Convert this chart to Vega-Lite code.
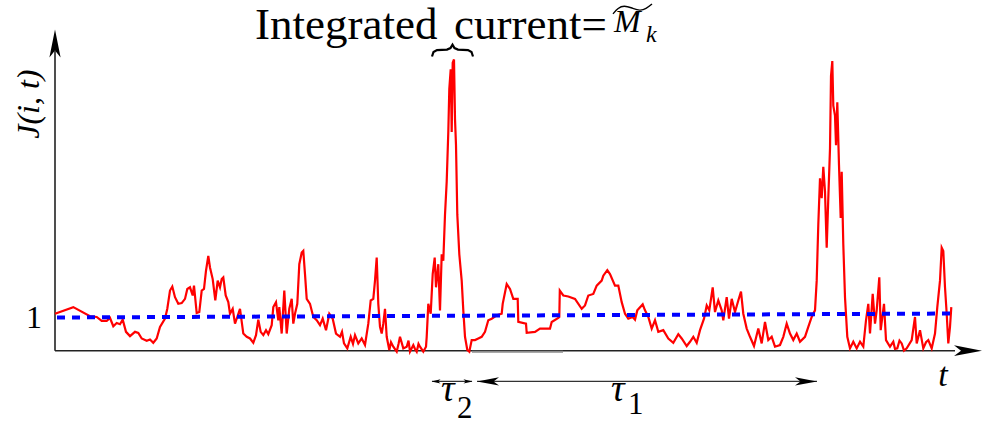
{
  "$schema": "https://vega.github.io/schema/vega-lite/v6.json",
  "width": 984,
  "height": 425,
  "autosize": {"type": "fit", "contains": "padding"},
  "padding": 0,
  "background": "white",
  "view": {"stroke": null},
  "config": {"text": {"font": "Liberation Serif", "color": "black"}},
  "datasets": {
    "current": [
      {"t":0,"J":1.097},{"t":18.3,"J":1.294},{"t":35,"J":1.021},{"t":41.7,"J":1.0},{"t":46.7,"J":0.882},{"t":51.7,"J":0.882},{"t":55,"J":0.971},{"t":58.3,"J":0.726},{"t":61.7,"J":0.824},{"t":65,"J":0.785},{"t":67.7,"J":0.921},{"t":71,"J":0.559},{"t":75,"J":0.432},{"t":80,"J":0.559},{"t":83.3,"J":0.529},{"t":86.7,"J":0.362},{"t":91.7,"J":0.294},{"t":95,"J":0.332},{"t":98.3,"J":0.235},{"t":101.7,"J":0.362},{"t":105,"J":0.706},{"t":110,"J":0.95},{"t":112.3,"J":1.244},{"t":115,"J":1.785},{"t":117.3,"J":1.903},{"t":120,"J":1.588},{"t":123.3,"J":1.391},{"t":126.7,"J":1.412},{"t":130,"J":1.538},{"t":132.3,"J":1.832},{"t":135,"J":1.882},{"t":137.7,"J":1.638},{"t":139,"J":1.932},{"t":141.7,"J":1.118},{"t":144.3,"J":1.147},{"t":146.7,"J":1.785},{"t":149,"J":1.832},{"t":151,"J":2.374},{"t":153.3,"J":2.815},{"t":155,"J":2.471},{"t":157.7,"J":2.126},{"t":160.3,"J":1.491},{"t":162.7,"J":2.079},{"t":165,"J":1.882},{"t":166.7,"J":2.126},{"t":168.3,"J":2.176},{"t":170.7,"J":1.638},{"t":173.3,"J":1.441},{"t":175,"J":1.097},{"t":177.7,"J":1.244},{"t":180,"J":0.803},{"t":182.3,"J":1.0},{"t":185,"J":1.244},{"t":188.3,"J":0.509},{"t":191.7,"J":0.412},{"t":195,"J":0.362},{"t":198.3,"J":0.235},{"t":201,"J":0.462},{"t":203.3,"J":0.921},{"t":205.7,"J":0.559},{"t":208.3,"J":0.462},{"t":211,"J":0.609},{"t":213.3,"J":0.491},{"t":216.7,"J":0.756},{"t":218.3,"J":1.294},{"t":221,"J":1.441},{"t":223.3,"J":0.903},{"t":224.3,"J":1.294},{"t":226.7,"J":0.509},{"t":229.3,"J":1.785},{"t":231.7,"J":0.509},{"t":234.3,"J":1.244},{"t":236.7,"J":1.538},{"t":238.3,"J":0.803},{"t":240,"J":1.097},{"t":242.3,"J":1.391},{"t":244.3,"J":2.568},{"t":246.7,"J":2.912},{"t":248.3,"J":2.962},{"t":250,"J":2.274},{"t":251.7,"J":1.538},{"t":255,"J":1.391},{"t":258.3,"J":1.0},{"t":261.7,"J":0.903},{"t":265,"J":0.756},{"t":267.7,"J":0.95},{"t":271,"J":0.609},{"t":274.3,"J":1.097},{"t":277.7,"J":0.95},{"t":281,"J":0.509},{"t":285,"J":0.412},{"t":287,"J":0.56},{"t":289,"J":0.215},{"t":292.3,"J":0.068},{"t":295.7,"J":0.412},{"t":298,"J":0.2},{"t":300,"J":0.462},{"t":303.3,"J":0.215},{"t":306.7,"J":0.362},{"t":310,"J":0.168},{"t":313.3,"J":0.803},{"t":315.7,"J":1.491},{"t":318.3,"J":1.538},{"t":320,"J":2.079},{"t":321.7,"J":2.765},{"t":323.3,"J":1.391},{"t":325,"J":0.706},{"t":326.7,"J":0.509},{"t":328.3,"J":0.803},{"t":330,"J":1.244},{"t":331.7,"J":0.412},{"t":334.3,"J":0.021},{"t":336,"J":0.25},{"t":338.3,"J":0.118},{"t":341.7,"J":-0.029},{"t":343.5,"J":0.2},{"t":345,"J":0.412},{"t":348.3,"J":0.068},{"t":351.7,"J":0.118},{"t":353.5,"J":0.3},{"t":355,"J":-0.029},{"t":358.3,"J":0.168},{"t":360,"J":0.05},{"t":361.7,"J":-0.029},{"t":363.5,"J":0.2},{"t":365,"J":0.118},{"t":368.3,"J":-0.029},{"t":371,"J":0.118},{"t":371.7,"J":0.412},{"t":373.3,"J":1.391},{"t":375.7,"J":1.097},{"t":377.7,"J":2.274},{"t":379.7,"J":2.765},{"t":381,"J":1.882},{"t":383.3,"J":2.568},{"t":385,"J":1.197},{"t":386.7,"J":2.862},{"t":388.3,"J":2.668},{"t":390,"J":4.038},{"t":391.7,"J":5.021},{"t":393.3,"J":6.491},{"t":394.3,"J":7.765},{"t":395.7,"J":8.353},{"t":396.7,"J":6.491},{"t":397.7,"J":8.55},{"t":399,"J":8.647},{"t":400,"J":6.882},{"t":401,"J":6.097},{"t":402.3,"J":4.038},{"t":404.3,"J":2.862},{"t":406.7,"J":2.079},{"t":408.3,"J":1.197},{"t":410,"J":0.412},{"t":412.3,"J":0.021},{"t":414.3,"J":-0.029},{"t":416.7,"J":0.315},{"t":420,"J":0.315},{"t":423.3,"J":0.362},{"t":426.7,"J":0.412},{"t":430,"J":0.559},{"t":433.3,"J":0.903},{"t":436.7,"J":0.95},{"t":441.7,"J":1.05},{"t":446.7,"J":1.097},{"t":447.7,"J":1.391},{"t":451.7,"J":1.979},{"t":455,"J":1.832},{"t":458.3,"J":1.538},{"t":462.7,"J":1.538},{"t":463.3,"J":0.853},{"t":471,"J":0.803},{"t":471.7,"J":0.529},{"t":480,"J":0.559},{"t":485,"J":0.656},{"t":495,"J":0.656},{"t":496.7,"J":0.853},{"t":503.3,"J":0.971},{"t":504.3,"J":1.0},{"t":504.8,"J":1.785},{"t":508.3,"J":1.638},{"t":513.3,"J":1.609},{"t":520,"J":1.538},{"t":526.7,"J":1.244},{"t":530,"J":1.344},{"t":533.3,"J":1.638},{"t":538.3,"J":1.685},{"t":541.7,"J":1.932},{"t":546.7,"J":2.079},{"t":548.3,"J":2.226},{"t":552.3,"J":2.391},{"t":555,"J":2.274},{"t":560,"J":1.932},{"t":563.3,"J":1.932},{"t":566.7,"J":1.441},{"t":570,"J":1.097},{"t":573.3,"J":0.95},{"t":577.7,"J":1.0},{"t":580,"J":0.921},{"t":582.3,"J":1.197},{"t":587.7,"J":1.374},{"t":590,"J":1.197},{"t":593.3,"J":1.0},{"t":596.7,"J":0.656},{"t":600,"J":0.903},{"t":603.3,"J":0.559},{"t":608.3,"J":0.609},{"t":613.3,"J":0.362},{"t":618.3,"J":0.235},{"t":623.3,"J":0.491},{"t":626.7,"J":0.362},{"t":631.7,"J":0.138},{"t":635,"J":0.265},{"t":638.3,"J":0.412},{"t":641.7,"J":0.235},{"t":645,"J":0.609},{"t":649,"J":0.95},{"t":651.7,"J":1.344},{"t":654.3,"J":1.197},{"t":657.7,"J":1.882},{"t":660,"J":1.147},{"t":663.3,"J":1.491},{"t":666.7,"J":1.197},{"t":668.3,"J":0.903},{"t":671.7,"J":1.588},{"t":674,"J":0.95},{"t":676.7,"J":1.538},{"t":680,"J":1.147},{"t":683.3,"J":1.491},{"t":686,"J":1.756},{"t":688.3,"J":1.097},{"t":691.7,"J":0.656},{"t":695,"J":0.412},{"t":699,"J":0.138},{"t":703.3,"J":0.656},{"t":706.7,"J":0.215},{"t":710,"J":0.853},{"t":713.3,"J":0.315},{"t":716.7,"J":0.412},{"t":720,"J":0.118},{"t":725,"J":0.168},{"t":728.3,"J":0.412},{"t":731.7,"J":0.803},{"t":735,"J":0.509},{"t":738.3,"J":0.315},{"t":741.7,"J":0.509},{"t":745,"J":0.265},{"t":750,"J":0.412},{"t":753.3,"J":0.706},{"t":756.7,"J":1.0},{"t":760,"J":1.197},{"t":761.7,"J":2.079},{"t":763.3,"J":3.744},{"t":765,"J":5.118},{"t":766.7,"J":4.529},{"t":768.3,"J":5.462},{"t":770,"J":4.726},{"t":771.7,"J":3.059},{"t":773.3,"J":4.529},{"t":775,"J":6.0},{"t":776,"J":8.156},{"t":777.3,"J":8.597},{"t":778.3,"J":7.274},{"t":780,"J":6.979},{"t":781,"J":6.097},{"t":782.3,"J":7.374},{"t":784,"J":5.509},{"t":785.7,"J":3.941},{"t":786.7,"J":5.315},{"t":788.3,"J":3.156},{"t":790,"J":1.588},{"t":792.3,"J":0.412},{"t":795,"J":0.068},{"t":798.3,"J":0.265},{"t":801.7,"J":0.068},{"t":805,"J":0.265},{"t":808.3,"J":0.118},{"t":811,"J":0.903},{"t":813.3,"J":1.391},{"t":815,"J":0.509},{"t":817.7,"J":1.685},{"t":820,"J":0.803},{"t":821.7,"J":1.197},{"t":824.3,"J":2.176},{"t":825.7,"J":0.609},{"t":829,"J":1.391},{"t":831,"J":0.315},{"t":835,"J":0.118},{"t":838.3,"J":0.265},{"t":840,"J":0.05},{"t":842.3,"J":0.068},{"t":844.5,"J":0.3},{"t":846.7,"J":0.215},{"t":849,"J":0.0},{"t":851.7,"J":0.068},{"t":856.7,"J":0.315},{"t":860,"J":1.0},{"t":861.7,"J":0.215},{"t":865,"J":0.609},{"t":868.3,"J":0.068},{"t":871,"J":0.25},{"t":873.3,"J":0.315},{"t":876.7,"J":0.068},{"t":880,"J":0.509},{"t":882.3,"J":1.294},{"t":885,"J":2.079},{"t":886.7,"J":3.059},{"t":888.3,"J":2.962},{"t":890,"J":1.882},{"t":891.7,"J":1.097},{"t":893.3,"J":0.215},{"t":895,"J":0.706},{"t":896.3,"J":1.294}
    ],
    "mean": [{"t":2,"J":0.985},{"t":901,"J":1.103}],
    "axes": [{"t":0,"J":0,"t2":0,"J2":8.9},{"t":0,"J":0,"t2":900,"J2":0}],
    "gap": [{"t":417,"J":-0.03,"t2":508}],
    "spans": [{"span":"tau2","t":377,"t2":417,"J":-0.912},{"span":"tau1","t":422,"t2":762,"J":-0.912}],
    "brace": [{"t":377,"J":8.735},{"t":378.5,"J":8.868},{"t":382,"J":8.926},{"t":392,"J":8.941},{"t":395.5,"J":8.985},{"t":397.5,"J":9.088},{"t":399.5,"J":8.985},{"t":403,"J":8.941},{"t":413,"J":8.926},{"t":416.5,"J":8.868},{"t":418,"J":8.735}],
    "tilde": [{"t":558,"J":10.0},{"t":563,"J":10.176},{"t":569,"J":10.25},{"t":577,"J":10.176},{"t":585,"J":10.088},{"t":591,"J":10.147},{"t":597,"J":10.294}]
  },
  "encoding": {
    "x": {"field": "t", "type": "quantitative", "axis": null, "scale": {"domain": [-55, 929], "nice": false, "zero": false}},
    "y": {"field": "J", "type": "quantitative", "axis": null, "scale": {"domain": [-2.088, 10.412], "nice": false, "zero": false}}
  },
  "layer": [
    {
      "data": {"name": "axes"},
      "mark": {"type": "rule", "color": "#222222", "strokeWidth": 1.6},
      "encoding": {"x2": {"field": "t2"}, "y2": {"field": "J2"}}
    },
    {
      "data": {"name": "gap"},
      "mark": {"type": "rule", "color": "#8c8c8c", "strokeWidth": 2},
      "encoding": {"x2": {"field": "t2"}}
    },
    {
      "data": {"values": [{"t": 913, "J": 0}]},
      "mark": {"type": "point", "shape": "M1,0 L-1,-0.38 L-0.5,0 L-1,0.38 Z", "filled": true, "color": "black", "opacity": 1, "size": 784}
    },
    {
      "data": {"values": [{"t": 0, "J": 9.118}]},
      "mark": {"type": "point", "shape": "M0,-1 L-0.4,1 L0,0.5 L0.4,1 Z", "filled": true, "color": "black", "opacity": 1, "size": 784}
    },
    {
      "data": {"name": "current"},
      "mark": {"type": "line", "color": "#ff0000", "strokeWidth": 2.2}
    },
    {
      "data": {"name": "mean"},
      "mark": {"type": "line", "color": "#0000ff", "strokeWidth": 4, "strokeDash": [8, 7]}
    },
    {
      "data": {"name": "spans"},
      "mark": {"type": "rule", "color": "#333333", "strokeWidth": 1.3},
      "encoding": {"x2": {"field": "t2"}}
    },
    {
      "data": {"values": [{"t": 751, "J": -0.912}]},
      "mark": {"type": "point", "shape": "M1,0 L-1,-0.38 L-0.5,0 L-1,0.38 Z", "filled": true, "color": "black", "opacity": 1, "size": 484}
    },
    {
      "data": {"values": [{"t": 433, "J": -0.912}]},
      "mark": {"type": "point", "shape": "M-1,0 L1,-0.38 L0.5,0 L1,0.38 Z", "filled": true, "color": "black", "opacity": 1, "size": 484}
    },
    {
      "data": {"values": [{"t": 413, "J": -0.912}]},
      "mark": {"type": "point", "shape": "M1,0 L-1,-0.45 L-0.5,0 L-1,0.45 Z", "filled": true, "color": "black", "opacity": 1, "size": 81}
    },
    {
      "data": {"values": [{"t": 381, "J": -0.912}]},
      "mark": {"type": "point", "shape": "M-1,0 L1,-0.45 L0.5,0 L1,0.45 Z", "filled": true, "color": "black", "opacity": 1, "size": 81}
    },
    {
      "data": {"name": "brace"},
      "mark": {"type": "line", "color": "black", "strokeWidth": 2.2}
    },
    {
      "data": {"name": "tilde"},
      "mark": {"type": "line", "color": "black", "strokeWidth": 1.4, "interpolate": "basis"}
    },
    {
      "data": {"values": [{"t": 200, "J": 9.265, "label": "Integrated"}, {"t": 399, "J": 9.265, "label": "current="}]},
      "mark": {"type": "text", "font": "Liberation Serif", "fontSize": 45, "align": "left", "baseline": "alphabetic"},
      "encoding": {"text": {"field": "label"}}
    },
    {
      "data": {"values": [{"t": 559, "J": 9.471, "label": "M"}]},
      "mark": {"type": "text", "font": "Liberation Serif", "fontSize": 32, "fontStyle": "italic", "align": "left", "baseline": "alphabetic"},
      "encoding": {"text": {"field": "label"}}
    },
    {
      "data": {"values": [{"t": 591, "J": 9.176, "label": "k"}]},
      "mark": {"type": "text", "font": "Liberation Serif", "fontSize": 24, "fontStyle": "italic", "align": "left", "baseline": "alphabetic"},
      "encoding": {"text": {"field": "label"}}
    },
    {
      "data": {"values": [{"t": -26, "J": 7.32, "label": "J(i, t)"}]},
      "mark": {"type": "text", "font": "Liberation Serif", "fontSize": 32, "fontStyle": "italic", "angle": 270, "align": "center", "baseline": "middle"},
      "encoding": {"text": {"field": "label"}}
    },
    {
      "data": {"values": [{"t": -21, "J": 0.97, "label": "1"}]},
      "mark": {"type": "text", "font": "Liberation Serif", "fontSize": 32, "align": "center", "baseline": "middle"},
      "encoding": {"text": {"field": "label"}}
    },
    {
      "data": {"values": [{"t": 888, "J": -0.765, "label": "t"}]},
      "mark": {"type": "text", "font": "Liberation Serif", "fontSize": 34, "fontStyle": "italic", "align": "center", "baseline": "middle"},
      "encoding": {"text": {"field": "label"}}
    },
    {
      "data": {"values": [{"t": 386, "J": -1.5, "label": "τ"}, {"t": 556, "J": -1.5, "label": "τ"}]},
      "mark": {"type": "text", "font": "Liberation Serif", "fontSize": 38, "fontStyle": "italic", "align": "left", "baseline": "alphabetic"},
      "encoding": {"text": {"field": "label"}}
    },
    {
      "data": {"values": [{"t": 402, "J": -2.0, "label": "2"}, {"t": 573, "J": -1.882, "label": "1"}]},
      "mark": {"type": "text", "font": "Liberation Serif", "fontSize": 31, "align": "left", "baseline": "alphabetic"},
      "encoding": {"text": {"field": "label"}}
    }
  ]
}
